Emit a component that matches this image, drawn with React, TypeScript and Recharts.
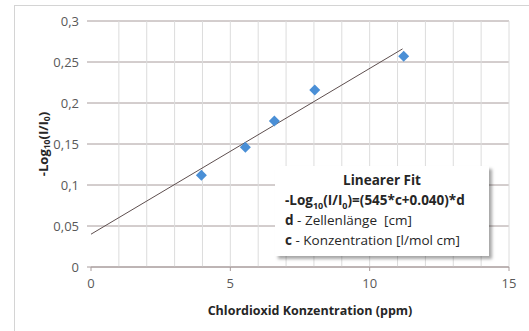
import React from 'react';
import { ScatterChart, Scatter, XAxis, YAxis, CartesianGrid, ReferenceLine } from 'recharts';

const measured = [
  { x: 3.96, y: 0.112 },
  { x: 5.54, y: 0.146 },
  { x: 6.58, y: 0.178 },
  { x: 8.03, y: 0.216 },
  { x: 11.22, y: 0.257 },
];
const fitStart = { x: 0, y: 0.04 };
const fitEnd = { x: 11.18, y: 0.266 };
const xTicks = [0, 5, 10, 15];
const xMinor = [1, 2, 3, 4, 5, 6, 7, 8, 9, 10, 11, 12, 13, 14, 15];
const yTicks = [0, 0.05, 0.1, 0.15, 0.2, 0.25, 0.3];

const FONT = "'Open Sans', sans-serif";
const fmt = (v: number) => String(v).replace('.', ',');

const Diamond = (props: any) => {
  const { cx, cy } = props;
  const r = 5.5;
  return (
    <path
      d={`M${cx},${cy - r}L${cx + r},${cy}L${cx},${cy + r}L${cx - r},${cy}Z`}
      fill="#4a8fd6"
    />
  );
};

const YLabel = (props: any) => {
  const vb = props.viewBox || {};
  const cx = 43;
  const cy = vb.y + vb.height / 2;
  return (
    <text
      x={cx}
      y={cy}
      transform={`rotate(-90 ${cx} ${cy})`}
      textAnchor="middle"
      dominantBaseline="central"
      fontFamily={FONT}
      fontWeight="bold"
      fontSize={13}
      fill="#262626"
    >
      -Log
      <tspan fontSize={8.5} dy={3}>10</tspan>
      <tspan dy={-3}>(I/I</tspan>
      <tspan fontSize={8.5} dy={3}>0</tspan>
      <tspan dy={-3}>)</tspan>
    </text>
  );
};

export default function App() {
  return (
    <div style={{ position: 'absolute', left: 0, top: 0, width: 529, height: 331, background: '#fff', overflow: 'hidden' }}>
      <div style={{ position: 'absolute', left: 14, top: 5, width: 600, height: 400, border: '1px solid #d4d4d4' }} />
      <ScatterChart
        width={529}
        height={331}
        margin={{ top: 21, right: 20, bottom: 14, left: 0 }}
        style={{ position: 'absolute', left: 0, top: 0 }}
      >
        <CartesianGrid vertical={false} stroke="#a89c9c" strokeWidth={1} />
        {xMinor.map((v) => (
          <ReferenceLine key={v} x={v} stroke="#dcdcdc" strokeWidth={1} />
        ))}
        <XAxis
          type="number"
          dataKey="x"
          domain={[0, 15]}
          ticks={xTicks}
          tickFormatter={fmt}
          stroke="#a89c9c"
          tickSize={4}
          tickMargin={8}
          tick={{ fill: '#595959', fontSize: 13, fontFamily: FONT }}
          height={50}
          label={{
            value: 'Chlordioxid Konzentration (ppm)',
            position: 'insideBottom',
            offset: 2,
            dx: 10,
            fill: '#262626',
            fontWeight: 'bold',
            fontSize: 12.5,
            fontFamily: FONT,
          }}
        />
        <YAxis
          type="number"
          dataKey="y"
          domain={[0, 0.3]}
          ticks={yTicks}
          tickFormatter={fmt}
          axisLine={false}
          stroke="#a89c9c"
          tickSize={4}
          tickMargin={8}
          width={91}
          tick={{ fill: '#595959', fontSize: 13, fontFamily: FONT }}
          label={<YLabel />}
        />
        <ReferenceLine
          segment={[fitStart, fitEnd]}
          stroke="#5e4f4f"
          strokeWidth={1}
        />
        <Scatter data={measured} shape={<Diamond />} isAnimationActive={false} />
      </ScatterChart>
      <div
        style={{
          position: 'absolute',
          left: 275,
          top: 166,
          width: 214,
          height: 90,
          background: '#fff',
          boxShadow: '3px 3px 3px rgba(0,0,0,0.35)',
          fontFamily: FONT,
          fontSize: 13.5,
          color: '#262626',
          lineHeight: '20px',
          boxSizing: 'border-box',
          padding: '4px 0 0 10px',
        }}
      >
        <div style={{ textAlign: 'center', fontWeight: 'bold', paddingRight: 10 }}>Linearer Fit</div>
        <div style={{ fontWeight: 'bold', whiteSpace: 'nowrap' }}>
          -Log<sub style={{ fontSize: 9, lineHeight: 0 }}>10</sub>(I/I<sub style={{ fontSize: 9, lineHeight: 0 }}>0</sub>)=(545*c+0.040)*d
        </div>
        <div style={{ whiteSpace: 'nowrap' }}>
          <b>d</b> - Zellenlänge&nbsp; [cm]
        </div>
        <div style={{ whiteSpace: 'nowrap' }}>
          <b>c</b> - Konzentration [l/mol cm]
        </div>
      </div>
    </div>
  );
}
